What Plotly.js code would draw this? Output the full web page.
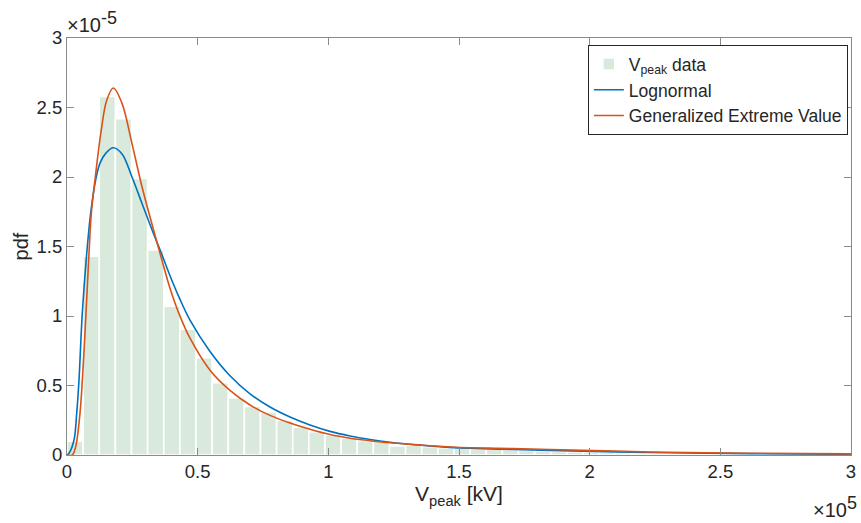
<!DOCTYPE html>
<html>
<head>
<meta charset="utf-8">
<script src="https://cdn.plot.ly/plotly-3.0.1.min.js"></script>
<style>html,body{margin:0;padding:0;background:#fff;}#chart{width:861px;height:523px;}</style>
</head>
<body>
<div id="chart"></div>
<script>
// Histogram of Vpeak (bin width ~6170 kV, starting at 0), pdf values
const binWidth = 6170;
const barHeights = [
  0.10e-5, 1.43e-5, 2.58e-5, 2.42e-5, 1.99e-5, 1.475e-5, 1.07e-5, 0.905e-5, 0.70e-5, 0.52e-5,
  0.41e-5, 0.35e-5, 0.31e-5, 0.25e-5, 0.20e-5, 0.168e-5, 0.144e-5, 0.12e-5, 0.103e-5, 0.096e-5,
  0.065e-5, 0.072e-5, 0.060e-5, 0.053e-5, 0.050e-5, 0.045e-5, 0.042e-5, 0.036e-5, 0.032e-5, 0.030e-5,
  0.026e-5, 0.024e-5, 0.020e-5, 0.019e-5, 0.016e-5, 0.015e-5, 0.013e-5, 0.012e-5, 0.011e-5, 0.010e-5,
  0.009e-5, 0.008e-5, 0.007e-5, 0.007e-5, 0.006e-5, 0.005e-5, 0.005e-5, 0.004e-5, 0.004e-5
];

// Lognormal fitted pdf
const lognX = [0, 765, 2680, 3710, 4590, 5855, 7780, 9060, 10980, 12630, 14800, 17720, 21050, 24870, 28700,
  32525, 36350, 39410, 43000, 47070, 54720, 62370, 70030, 77680, 85330, 92980, 100640, 108290, 115940, 123600,
  131250, 138900, 146550, 165000, 184820, 223090, 261350, 300000];
const lognY = [0, 0.012e-5, 0.108e-5, 0.30e-5, 0.54e-5, 1.02e-5, 1.50e-5, 1.74e-5, 1.98e-5, 2.10e-5, 2.17e-5, 2.21e-5, 2.165e-5, 2.0e-5, 1.81e-5,
  1.62e-5, 1.44e-5, 1.29e-5, 1.13e-5, 0.97e-5, 0.745e-5, 0.57e-5, 0.44e-5, 0.345e-5, 0.273e-5, 0.216e-5, 0.170e-5, 0.137e-5, 0.112e-5, 0.092e-5,
  0.077e-5, 0.065e-5, 0.055e-5, 0.042e-5, 0.033e-5, 0.018e-5, 0.010e-5, 0.005e-5];

// Generalized Extreme Value fitted pdf
const gevX = [0, 2030, 3320, 4970, 6250, 7270, 8550, 9310, 10710, 13140, 15180, 17720, 21050, 24870, 28700,
  32525, 36350, 39410, 43000, 47070, 54720, 62370, 70030, 77680, 85330, 92980, 100640, 108290, 115940, 123600,
  131250, 138900, 146550, 165000, 184820, 223090, 261350, 300000];
const gevY = [0, 0, 0.06e-5, 0.30e-5, 0.66e-5, 1.02e-5, 1.50e-5, 1.74e-5, 1.98e-5, 2.34e-5, 2.55e-5, 2.64e-5, 2.53e-5, 2.24e-5, 1.93e-5,
  1.66e-5, 1.40e-5, 1.20e-5, 1.01e-5, 0.84e-5, 0.61e-5, 0.465e-5, 0.36e-5, 0.285e-5, 0.230e-5, 0.185e-5, 0.147e-5, 0.121e-5, 0.103e-5, 0.088e-5,
  0.077e-5, 0.067e-5, 0.058e-5, 0.048e-5, 0.040e-5, 0.022e-5, 0.013e-5, 0.008e-5];

const xTickVals = [0, 50000, 100000, 150000, 200000, 250000, 300000];
const xTickText = ['0', '0.5', '1', '1.5', '2', '2.5', '3'];
const yTickVals = [0, 0.5e-5, 1e-5, 1.5e-5, 2e-5, 2.5e-5, 3e-5];
const yTickText = ['0', '0.5', '1', '1.5', '2', '2.5', '3'];

const barX = barHeights.map((_, i) => (i + 0.5) * binWidth);

const FONT = 'Liberation Sans, Arial, Helvetica, sans-serif';
const TXT = '#262626';
const AX = '#8a8a8a';

const traces = [
  {
    type: 'bar', x: barX, y: barHeights, width: binWidth,
    name: 'V<sub>peak</sub> data',
    marker: {color: 'rgb(217,234,220)', line: {color: '#ffffff', width: 1.6}},
    hoverinfo: 'skip'
  },
  {
    type: 'scatter', mode: 'lines', x: lognX, y: lognY, name: 'Lognormal',
    line: {color: '#0072BD', width: 1.6, shape: 'spline', smoothing: 1}
  },
  {
    type: 'scatter', mode: 'lines', x: gevX, y: gevY, name: 'Generalized Extreme Value',
    line: {color: '#D95319', width: 1.6, shape: 'spline', smoothing: 1}
  }
];

const axisCommon = {
  showline: true, linecolor: AX, linewidth: 1, mirror: 'allticks',
  ticks: 'inside', ticklen: 7, tickcolor: AX, tickwidth: 1,
  showgrid: false, zeroline: false,
  tickfont: {family: FONT, size: 18.5, color: TXT},
  tickmode: 'array'
};

const layout = {
  width: 861, height: 523,
  margin: {l: 67, r: 10, t: 38, b: 68},
  paper_bgcolor: '#ffffff', plot_bgcolor: '#ffffff',
  font: {family: FONT, color: TXT},
  bargap: 0,
  showlegend: true,
  legend: {
    x: 0.996, y: 0.983, xanchor: 'right', yanchor: 'top',
    bgcolor: '#ffffff', bordercolor: '#262626', borderwidth: 1,
    font: {family: FONT, size: 17.5, color: TXT},
    itemwidth: 30,
    tracegroupgap: 0
  },
  xaxis: Object.assign({}, axisCommon, {
    range: [0, 300000], tickvals: xTickVals, ticktext: xTickText,
    title: {text: 'V<sub>peak</sub> [kV]', font: {family: FONT, size: 21, color: TXT}, standoff: 3}
  }),
  yaxis: Object.assign({}, axisCommon, {
    range: [0, 3e-5], tickvals: yTickVals, ticktext: yTickText,
    title: {text: 'pdf', font: {family: FONT, size: 20, color: TXT}, standoff: 2}
  }),
  annotations: [
    {xref: 'paper', yref: 'paper', x: 0, y: 1, xanchor: 'left', yanchor: 'bottom', yshift: 0, xshift: -2,
     showarrow: false, text: '×10<sup><span style="font-size:18px">-5</span></sup>', font: {family: FONT, size: 20, color: TXT}},
    {xref: 'paper', yref: 'paper', x: 1, y: 0, xanchor: 'right', yanchor: 'top', yshift: -36, xshift: 8,
     showarrow: false, text: '×10<sup><span style="font-size:18px">5</span></sup>', font: {family: FONT, size: 20, color: TXT}}
  ]
};

Plotly.newPlot('chart', traces, layout, {displayModeBar: false, staticPlot: true});
</script>
</body>
</html>
